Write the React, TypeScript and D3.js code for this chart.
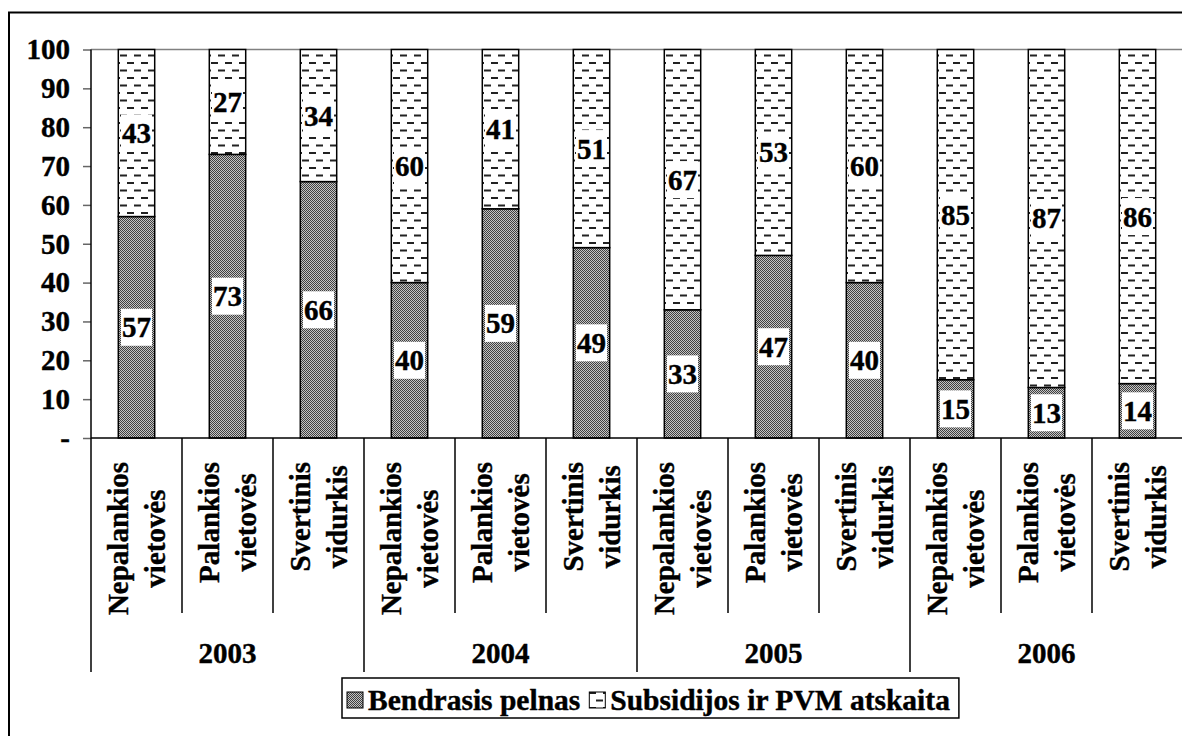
import React, { useEffect, useRef } from "react";
import * as d3 from "d3";

const years = ["2003", "2004", "2005", "2006"];
const groupLabels = [
  ["Nepalankios", "vietovės"],
  ["Palankios", "vietovės"],
  ["Svertinis", "vidurkis"],
];
const profit = [57, 73, 66, 40, 59, 49, 33, 47, 40, 15, 13, 14];
const subsidies = [43, 27, 34, 60, 41, 51, 67, 53, 60, 85, 87, 86];
const yTicks = [0, 10, 20, 30, 40, 50, 60, 70, 80, 90, 100];
const legendLabels = ["Bendrasis pelnas", "Subsidijos ir PVM atskaita"];

const FS = 29;

// serif bold text helper
function styleText(sel: any, size = FS) {
  return sel
    .attr("font-family", "Liberation Serif")
    .attr("font-weight", "bold")
    .attr("font-size", size)
    .attr("fill", "#000")
    .attr("stroke", "#000")
    .attr("stroke-width", 0.4);
}

export default function App() {
  const ref = useRef<SVGSVGElement>(null);

  useEffect(() => {
    const svg = d3.select(ref.current);
    svg.selectAll("*").remove();

    const left = 91;
    const right = 1183;
    const top = 49.5;
    const bottom = 438;

    const cats = years.flatMap((yr) => groupLabels.map((g) => yr + "|" + g.join(" ")));

    const x = d3.scaleBand().domain(cats).range([left, right]).padding(0);
    const y = d3.scaleLinear().domain([0, 100]).range([bottom, top]);
    const step = x.step();
    const barW = step * 0.4;

    // patterns
    const defs = svg.append("defs");
    const dots = defs
      .append("pattern")
      .attr("id", "dots")
      .attr("patternUnits", "userSpaceOnUse")
      .attr("width", 2)
      .attr("height", 2);
    dots.append("rect").attr("width", 2).attr("height", 2).attr("fill", "#c4c4c4");
    dots.append("rect").attr("x", 0).attr("y", 0).attr("width", 1).attr("height", 1).attr("fill", "#404040");
    dots.append("rect").attr("x", 1).attr("y", 1).attr("width", 1).attr("height", 1).attr("fill", "#404040");

    const dash = defs
      .append("pattern")
      .attr("id", "dash")
      .attr("patternUnits", "userSpaceOnUse")
      .attr("width", 14)
      .attr("height", 15);
    dash.append("rect").attr("width", 14).attr("height", 15).attr("fill", "#fff");
    dash.append("rect").attr("x", 1).attr("y", 2).attr("width", 7).attr("height", 2).attr("fill", "#222");
    dash.append("rect").attr("x", 8).attr("y", 9.5).attr("width", 6).attr("height", 2).attr("fill", "#222");
    dash.append("rect").attr("x", 0).attr("y", 9.5).attr("width", 1).attr("height", 2).attr("fill", "#222");

    svg.append("rect").attr("width", 1182).attr("height", 736).attr("fill", "#fff");

    // outer frame (cropped at right and bottom)
    svg
      .append("rect")
      .attr("x", 9)
      .attr("y", 12.5)
      .attr("width", 1400)
      .attr("height", 1000)
      .attr("fill", "none")
      .attr("stroke", "#000")
      .attr("stroke-width", 2);

    // plot top border
    svg
      .append("line")
      .attr("x1", left)
      .attr("x2", right)
      .attr("y1", top)
      .attr("y2", top)
      .attr("stroke", "#808080")
      .attr("stroke-width", 1.5);

    // bars
    const bars = svg.append("g");
    cats.forEach((c, i) => {
      const bx = (x(c) as number) + (step - barW) / 2;
      bars
        .append("rect")
        .attr("x", bx)
        .attr("y", y(profit[i]))
        .attr("width", barW)
        .attr("height", y(0) - y(profit[i]))
        .attr("fill", "url(#dots)")
        .attr("stroke", "#000")
        .attr("stroke-width", 1.5);
      bars
        .append("rect")
        .attr("x", bx)
        .attr("y", y(100))
        .attr("width", barW)
        .attr("height", y(profit[i]) - y(100))
        .attr("fill", "url(#dash)")
        .attr("stroke", "#000")
        .attr("stroke-width", 1.5);
    });

    // data labels
    const labels = svg.append("g");
    cats.forEach((c, i) => {
      const cx = (x(c) as number) + step / 2;
      const segs = [
        { v: profit[i], mid: profit[i] / 2 },
        { v: subsidies[i], mid: profit[i] + subsidies[i] / 2 },
      ];
      segs.forEach((s) => {
        const g = labels.append("g");
        const r = g.append("rect").attr("fill", "#fff");
        const t = styleText(
          g
            .append("text")
            .attr("x", cx)
            .attr("y", y(s.mid) + 10)
            .attr("text-anchor", "middle")
            .text(s.v)
        );
        const w = (t.node() as SVGTextElement).getComputedTextLength();
        r.attr("x", cx - w / 2 - 1)
          .attr("y", y(s.mid) - 18.5)
          .attr("width", w + 2)
          .attr("height", 37);
      });
    });

    // y axis
    const yAxis = svg
      .append("g")
      .attr("transform", `translate(${left},0)`)
      .call(
        d3
          .axisLeft(y)
          .tickValues(yTicks)
          .tickFormat((d) => (d === 0 ? "-" : String(d)))
          .tickSize(8)
          .tickSizeOuter(0)
          .tickPadding(13)
      );
    yAxis.select(".domain").remove();
    yAxis.selectAll("line").attr("stroke", "#666").attr("stroke-width", 1.5);
    styleText(yAxis.selectAll("text"));

    // x axis line
    svg
      .append("line")
      .attr("x1", left)
      .attr("x2", right)
      .attr("y1", bottom)
      .attr("y2", bottom)
      .attr("stroke", "#000")
      .attr("stroke-width", 1.5);

    // category separators
    d3.range(cats.length + 1).forEach((i) => {
      const sx = left + i * step;
      svg
        .append("line")
        .attr("x1", sx)
        .attr("x2", sx)
        .attr("y1", i === 0 ? top : bottom)
        .attr("y2", i % 3 === 0 ? 672 : 613)
        .attr("stroke", "#000")
        .attr("stroke-width", 1.5);
    });

    // category labels (rotated, two lines)
    const catG = svg.append("g");
    cats.forEach((c, i) => {
      const lines = groupLabels[i % 3];
      const cx = (x(c) as number) + step / 2;
      const g = catG.append("g").attr("transform", `translate(${cx},462) rotate(-90)`);
      const texts = lines.map((ln, k) =>
        styleText(
          g
            .append("text")
            .attr("y", k === 0 ? -9 : 28)
            .attr("text-anchor", "middle")
            .text(ln)
        )
      );
      const maxW = d3.max(texts, (t: any) => (t.node() as SVGTextElement).getComputedTextLength()) as number;
      texts.forEach((t: any) => t.attr("x", -maxW / 2));
    });

    // year labels
    years.forEach((yr, k) => {
      const x0 = left + k * 3 * step;
      styleText(
        svg
          .append("text")
          .attr("x", x0 + 1.5 * step)
          .attr("y", 663)
          .attr("text-anchor", "middle")
          .text(yr)
      );
    });

    // legend
    const lg = svg.append("g");
    const box = lg.append("rect").attr("fill", "#fff").attr("stroke", "#000").attr("stroke-width", 1.5);
    const fills = ["url(#dots)", "url(#dash)"];
    const legendLeft = 342;
    let lx = legendLeft + 5;
    legendLabels.forEach((lbl, k) => {
      lg.append("rect")
        .attr("x", lx)
        .attr("y", 692)
        .attr("width", 16)
        .attr("height", 16)
        .attr("fill", fills[k])
        .attr("stroke", "#000")
        .attr("stroke-width", 1);
      const t = styleText(lg.append("text").attr("x", lx + 21).attr("y", 710).text(lbl), 29.5);
      lx = lx + 21 + (t.node() as SVGTextElement).getComputedTextLength() + 9;
    });
    box.attr("x", legendLeft).attr("y", 678).attr("width", lx - legendLeft).attr("height", 40);
  }, []);

  return (
    <svg ref={ref} width={1182} height={736} style={{ position: "absolute", left: 0, top: 0, display: "block" }} />
  );
}
